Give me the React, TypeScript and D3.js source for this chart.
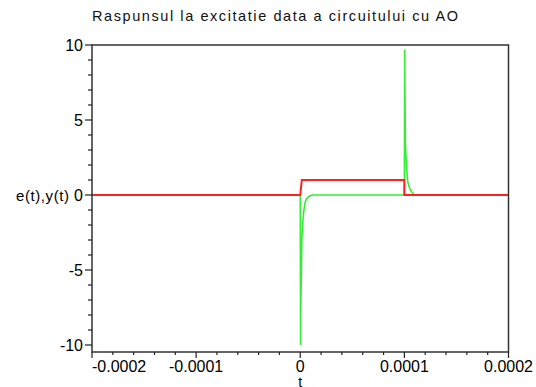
import React, { useEffect, useRef } from 'react';
import * as d3 from 'd3';

const title = 'Raspunsul la excitatie data a circuitului cu AO';
const xLabel = 't';
const yLabel = 'e(t),y(t)';

// time in microseconds
const eTime = [-200, 0, 1.5, 100, 100, 200];
const eValue = [0, 0, 1, 1, 0, 0];

const yTime = [-200, 0, 0.3, 0.5, 1, 1.5, 2.5, 3.5, 5, 7, 10, 12, 100, 100.3, 100.6, 101, 102, 103.2, 105, 107, 110, 200];
const yValue = [0, 0, -10, -7.4, -5.5, -2.9, -1.8, -1.0, -0.4, -0.15, -0.03, 0, 0, 9.7, 6.4, 3.4, 1.9, 0.9, 0.45, 0.2, 0, 0];

const xTicks = [-0.0002, -0.0001, 0, 0.0001, 0.0002];
const xTickLabels = ['-0.0002', '-0.0001', '0', '0.0001', '0.0002'];
const yTicks = [-10, -5, 0, 5, 10];

const W = 536;
const H = 387;

export default function App() {
  const ref = useRef<SVGSVGElement>(null);

  useEffect(() => {
    if (!ref.current) return;
    const svg = d3.select(ref.current);
    svg.selectAll('*').remove();

    const left = 92, right = 508.5, top = 45, bottom = 352;
    const x = d3.scaleLinear().domain([-0.0002, 0.0002]).range([left, right]);
    const y = d3.scaleLinear().domain([-10, 10]).range([345, top]);
    const font = 'Liberation Sans, Arial, sans-serif';

    svg.append('rect').attr('width', W).attr('height', H).attr('fill', '#fff');

    // title (stretched a bit, the original font is wider)
    svg.append('text')
      .attr('x', 92).attr('y', 21)
      .attr('textLength', 366)
      .attr('lengthAdjust', 'spacing')
      .style('font-family', font)
      .style('font-size', '14.5px')
      .attr('fill', '#111')
      .text(title);

    const line = d3.line<[number, number]>()
      .x(d => x(d[0] * 1e-6))
      .y(d => y(d[1]));

    const green = yTime.map((t, i) => [t, yValue[i]] as [number, number]);
    const red = eTime.map((t, i) => [t, eValue[i]] as [number, number]);

    svg.append('path')
      .attr('d', line(green) as string)
      .attr('fill', 'none')
      .attr('stroke', '#33ee33')
      .attr('stroke-width', 1.6);

    svg.append('path')
      .attr('d', line(red) as string)
      .attr('fill', 'none')
      .attr('stroke', '#ff2020')
      .attr('stroke-width', 2);

    // frame
    svg.append('rect')
      .attr('x', left).attr('y', top)
      .attr('width', right - left).attr('height', bottom - top)
      .attr('fill', 'none')
      .attr('stroke', '#333')
      .attr('stroke-width', 1.5);

    // y axis ticks
    const yMinor = d3.range(-10, 11, 1);
    svg.append('g').selectAll('line').data(yMinor).join('line')
      .attr('x1', left).attr('x2', d => left - (d % 5 === 0 ? 7 : 4))
      .attr('y1', d => y(d)).attr('y2', d => y(d))
      .attr('stroke', '#222').attr('stroke-width', 1.2);
    svg.append('g').selectAll('text').data(yTicks).join('text')
      .attr('x', left - 9).attr('y', d => y(d) + 5.5)
      .attr('text-anchor', 'end')
      .style('font-family', font).style('font-size', '16px')
      .text(d => String(d));

    // x axis ticks
    const xMinor = d3.range(-10, 11, 1).map(i => i * 0.00002);
    svg.append('g').selectAll('line').data(xMinor).join('line')
      .attr('x1', d => x(d)).attr('x2', d => x(d))
      .attr('y1', bottom).attr('y2', (d, i) => bottom + (i % 5 === 0 ? 6 : 3))
      .attr('stroke', '#222').attr('stroke-width', 1.2);
    svg.append('g').selectAll('text').data(xTicks).join('text')
      .attr('x', (d, i) => (i === 0 ? x(d) : x(d)))
      .attr('y', bottom + 20)
      .attr('text-anchor', (d, i) => (i === 0 ? 'start' : 'middle'))
      .style('font-family', font).style('font-size', '16px')
      .text((d, i) => xTickLabels[i]);

    svg.append('text')
      .attr('x', x(0)).attr('y', 387)
      .attr('text-anchor', 'middle')
      .style('font-family', font).style('font-size', '14px')
      .text(xLabel);

    svg.append('text')
      .attr('x', 69).attr('y', y(0) + 5.5)
      .attr('text-anchor', 'end')
      .attr('textLength', 53)
      .attr('lengthAdjust', 'spacing')
      .style('font-family', font).style('font-size', '15px')
      .text(yLabel);
  }, []);

  return (
    <div style={{ position: 'absolute', left: 0, top: 0 }}>
      <svg ref={ref} width={W} height={H} style={{ display: 'block' }} />
    </div>
  );
}
